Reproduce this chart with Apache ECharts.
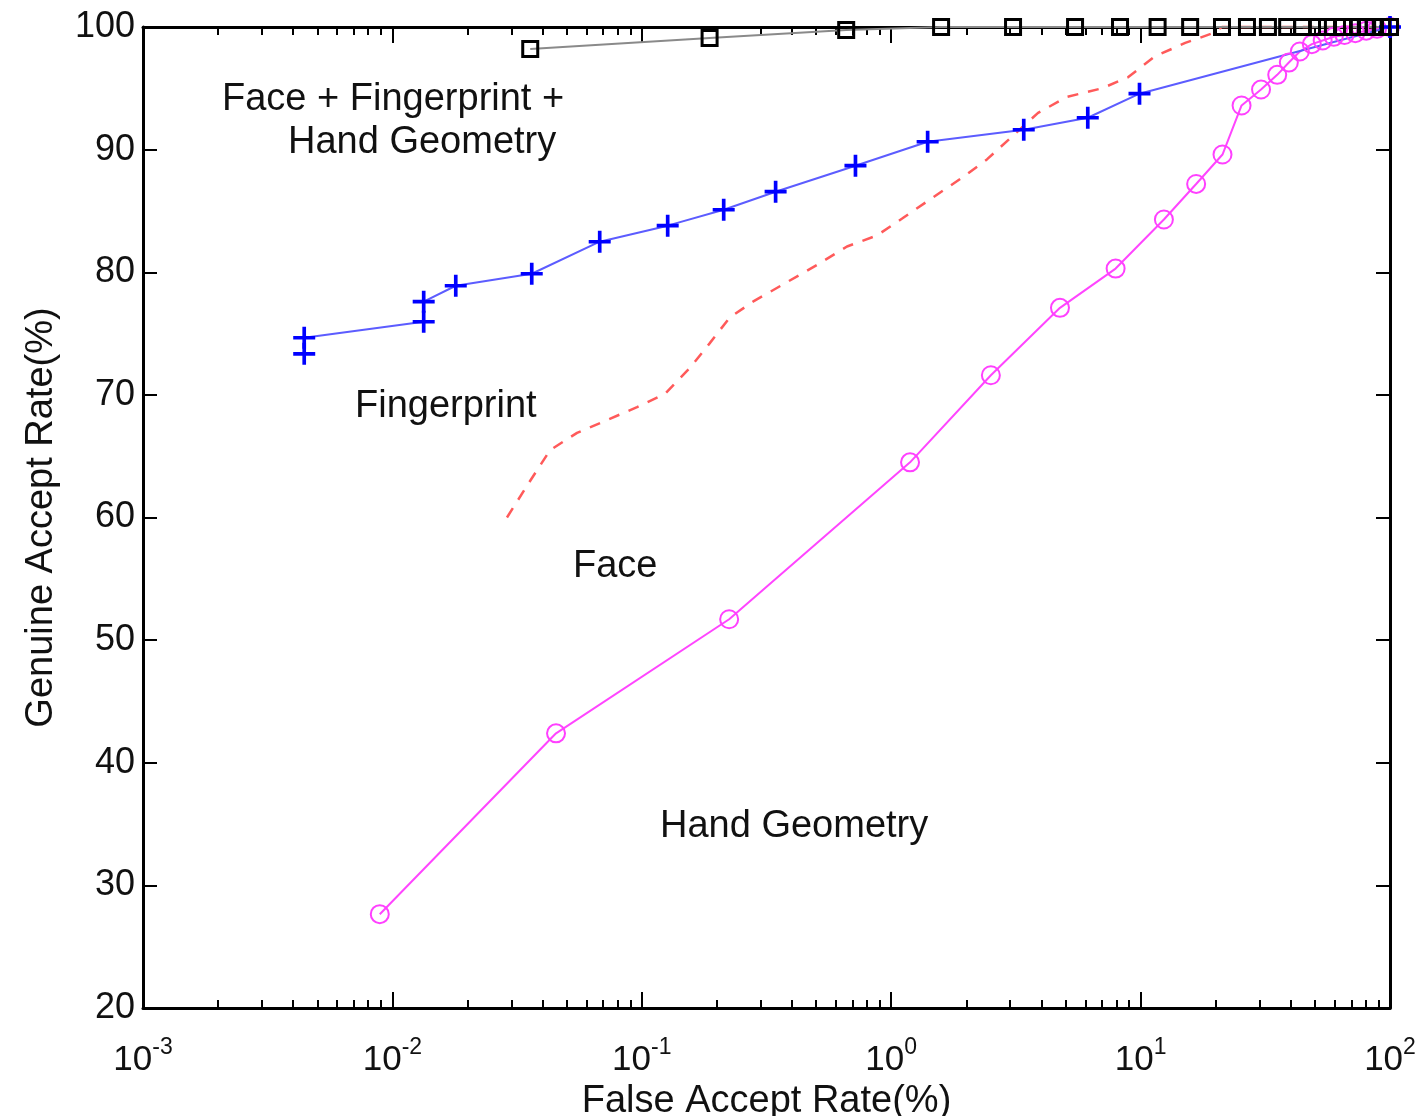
<!DOCTYPE html>
<html><head><meta charset="utf-8">
<script src="https://cdn.jsdelivr.net/npm/echarts@6/dist/echarts.min.js"></script>
<style>html,body{margin:0;padding:0;background:#fff}#c{width:1425px;height:1116px}</style>
</head><body><div id="c"></div>
<script>
// ---- data ----
const xMin = 0.001, xMax = 100;
const yTicks = [20, 30, 40, 50, 60, 70, 80, 90, 100];

const fusionFAR = [0.0357, 0.187, 0.66, 1.585, 3.08, 5.46, 8.27, 11.7, 15.8, 21.2, 26.7, 32.4, 38.7, 44.4, 51.4, 55.9, 64.8, 70.4, 75, 80, 86, 93, 100];
const fusionGAR = [98.2, 99.1, 99.75, 100, 100, 100, 100, 100, 100, 100, 100, 100, 100, 100, 100, 100, 100, 100, 100, 100, 100, 100, 100];

const fingerFAR = [0.00443, 0.00443, 0.01335, 0.01335, 0.01795, 0.0362, 0.0678, 0.127, 0.213, 0.344, 0.719, 1.40, 3.40, 6.14, 9.9, 100];
const fingerGAR = [73.35, 74.66, 75.96, 77.6, 78.9, 79.88, 82.49, 83.8, 85.1, 86.57, 88.69, 90.64, 91.62, 92.6, 94.56, 100];

const faceFAR = [0.0288, 0.0357, 0.0429, 0.055, 0.0698, 0.0957, 0.124, 0.156, 0.187, 0.225, 0.279, 0.368, 0.504, 0.665, 0.877, 1.11, 1.47, 1.92, 2.42, 2.99, 3.88, 5.07, 7.0, 8.9, 11.4, 15.1, 19.5, 21.2, 100];
const faceGAR = [60.0, 63.0, 65.5, 66.9, 67.8, 69.0, 70.1, 72.2, 74.2, 76.3, 77.6, 79.0, 80.6, 82.1, 83.0, 84.4, 86.1, 87.7, 89.2, 90.9, 93.0, 94.3, 95.0, 95.9, 97.6, 98.7, 99.5, 100, 100];

const handFAR = [0.0089, 0.0453, 0.224, 1.19, 2.51, 4.75, 7.94, 12.4, 16.7, 21.3, 25.4, 30.4, 35.3, 39.3, 43.5, 48.6, 53.7, 59.5, 65.7, 72.6, 80.3, 88.7, 100];
const handGAR = [27.65, 42.4, 51.7, 64.5, 71.6, 77.1, 80.3, 84.3, 87.2, 89.6, 93.6, 94.9, 96.1, 97.1, 98.0, 98.6, 98.9, 99.2, 99.35, 99.5, 99.7, 99.85, 100];

const labelFusion1 = 'Face + Fingerprint +';
const labelFusion2 = 'Hand Geometry';
const labelFinger = 'Fingerprint';
const labelFace = 'Face';
const labelHand = 'Hand Geometry';
const xName = 'False Accept Rate(%)';
const yName = 'Genuine Accept Rate(%)';

// ---- build ----
const zip = (a, b) => a.map((v, i) => [v, b[i]]);
const FONT = '"Liberation Sans", Arial, sans-serif';
const plusPath = 'path://M10,0h4v10h10v4h-10v10h-4v-10h-10v-4h10z';

const chart = echarts.init(document.getElementById('c'), null, {renderer: 'canvas'});

function xAxisBase(pos, showLabel) {
  return {
    type: 'log', logBase: 10, min: xMin, max: xMax, position: pos,
    axisLine: {show: true, onZero: false, lineStyle: {color: '#000', width: 3}},
    axisTick: {show: true, inside: true, length: 16, lineStyle: {color: '#000', width: 2}},
    minorTick: {show: true, splitNumber: 9, length: 8, lineStyle: {color: '#000', width: 2}},
    splitLine: {show: false}, minorSplitLine: {show: false},
    axisLabel: showLabel ? {
      show: true, margin: 28, color: '#111', fontFamily: FONT,
      formatter: v => '{b|10}{s|' + Math.round(Math.log10(v)) + '}',
      rich: {
        b: {fontSize: 35, fontFamily: FONT, color: '#111'},
        s: {fontSize: 23, fontFamily: FONT, color: '#111', padding: [0, 0, 26, 0]}
      }
    } : {show: false}
  };
}
function yAxisBase(pos, showLabel) {
  return {
    type: 'value', min: 20, max: 100, interval: 10, position: pos,
    axisLine: {show: true, onZero: false, lineStyle: {color: '#000', width: 3}},
    axisTick: {show: true, inside: true, length: 14, lineStyle: {color: '#000', width: 2}},
    splitLine: {show: false},
    axisLabel: showLabel ? {show: true, margin: 8, fontSize: 36, fontFamily: FONT, color: '#111',
      formatter: v => yTicks.indexOf(v) >= 0 ? String(v) : ''} : {show: false}
  };
}

const xa = xAxisBase('bottom', true);
xa.name = xName; xa.nameLocation = 'middle'; xa.nameGap = 70;
xa.nameTextStyle = {fontSize: 38, fontFamily: FONT, color: '#111'};
const ya = yAxisBase('left', true);
ya.name = yName; ya.nameLocation = 'middle'; ya.nameGap = 82; ya.nameRotate = 90;
ya.nameTextStyle = {fontSize: 38, fontFamily: FONT, color: '#111'};

const txt = (t, x, y) => ({type: 'text', x: x, y: y, style: {text: t, fontSize: 38, fontFamily: FONT, fill: '#111', textVerticalAlign: 'middle', verticalAlign: 'middle'}});

chart.setOption({
  animation: false,
  backgroundColor: '#fff',
  grid: {left: 143, right: 35, top: 27, bottom: 108, containLabel: false, outerBoundsMode: 'none'},
  xAxis: [xa, xAxisBase('top', false)],
  yAxis: [ya, yAxisBase('right', false)],
  series: [
    {name: 'Face', type: 'line', data: zip(faceFAR, faceGAR), showSymbol: false, symbol: 'none', clip: false,
     lineStyle: {color: '#ff5a5a', width: 2.5, type: [11, 10]}},
    {name: 'Hand Geometry', type: 'line', data: zip(handFAR, handGAR), symbol: 'circle', symbolSize: 18, clip: false,
     lineStyle: {color: '#ff45ff', width: 2}, itemStyle: {color: 'rgba(0,0,0,0)', borderColor: '#ff40ff', borderWidth: 2}},
    {name: 'Fingerprint', type: 'line', data: zip(fingerFAR, fingerGAR), symbol: plusPath, symbolSize: 22, clip: false,
     lineStyle: {color: '#5c5cff', width: 2}, itemStyle: {color: '#0000ff', borderWidth: 0}},
    {name: 'Fusion', type: 'line', data: zip(fusionFAR, fusionGAR), symbol: 'rect', symbolSize: 15, clip: false,
     lineStyle: {color: '#8a8a8a', width: 2}, itemStyle: {color: 'rgba(255,255,255,0)', borderColor: '#000', borderWidth: 3}}
  ],
  graphic: [
    txt(labelFusion1, 222, 100),
    txt(labelFusion2, 288, 143),
    txt(labelFinger, 355, 407),
    txt(labelFace, 573, 567),
    txt(labelHand, 660, 827)
  ]
});
</script>
</body></html>
